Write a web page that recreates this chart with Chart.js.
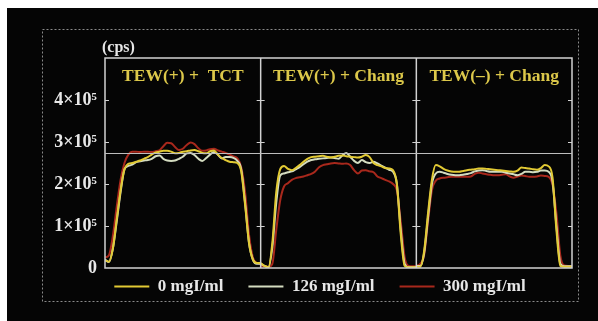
<!DOCTYPE html>
<html>
<head>
<meta charset="utf-8">
<script src="https://cdn.jsdelivr.net/npm/chart.js@4.4.1/dist/chart.umd.min.js"></script>
<style>
  body { margin: 0; background: #fff; }
  #wrap { width: 598px; height: 321px; }
</style>
</head>
<body>
<div id="wrap"><canvas id="chart" width="598" height="321"></canvas></div>
<script>
const panels = ['TEW(+) +  TCT', 'TEW(+) + Chang', 'TEW(–) + Chang'];
const doses = ['0 mgI/ml', '126 mgI/ml', '300 mgI/ml'];
const yTicks = [0, 1, 2, 3, 4];   // x10^5 cps
const refLevel = 2.73;

// count rate (x10^5 cps), 41 samples across each panel
const tct0   = [0.18,0.15,0.45,1.15,1.85,2.35,2.48,2.5,2.53,2.56,2.6,2.64,2.7,2.75,2.77,2.79,2.79,2.77,2.73,2.74,2.77,2.78,2.8,2.81,2.78,2.74,2.73,2.78,2.8,2.7,2.62,2.57,2.53,2.52,2.5,2.3,1.5,0.6,0.2,0.12,0.12];
const tct126 = [0.2,0.14,0.45,1.1,1.8,2.35,2.43,2.46,2.52,2.54,2.56,2.57,2.6,2.66,2.68,2.6,2.56,2.55,2.56,2.6,2.65,2.73,2.74,2.69,2.6,2.55,2.62,2.7,2.76,2.7,2.61,2.64,2.64,2.62,2.55,2.35,1.55,0.6,0.2,0.1,0.1];
const tct300 = [0.25,0.3,0.75,1.45,2.1,2.5,2.7,2.77,2.77,2.76,2.77,2.77,2.76,2.78,2.8,2.9,2.98,2.97,2.88,2.81,2.84,2.93,2.99,2.95,2.85,2.79,2.8,2.83,2.84,2.8,2.77,2.74,2.7,2.66,2.61,2.4,1.8,0.8,0.25,0.12,0.1];

const chang0   = [0.12,0.05,0.02,0.6,1.8,2.35,2.43,2.36,2.33,2.38,2.45,2.53,2.6,2.64,2.65,2.66,2.67,2.65,2.63,2.65,2.67,2.68,2.66,2.65,2.64,2.63,2.65,2.69,2.64,2.5,2.45,2.42,2.38,2.37,2.33,2.0,0.8,0.05,0.02,0.02,0.02];
const chang126 = [0.1,0.05,0.02,0.5,1.55,2.2,2.25,2.28,2.3,2.35,2.4,2.47,2.53,2.57,2.59,2.6,2.61,2.62,2.63,2.62,2.6,2.68,2.74,2.65,2.55,2.5,2.57,2.52,2.5,2.53,2.49,2.44,2.39,2.34,2.29,2.0,0.9,0.1,0.02,0.02,0.02];
const chang300 = [0.05,0.04,0.03,0.1,0.9,1.6,1.94,2.02,2.1,2.14,2.16,2.18,2.21,2.24,2.3,2.4,2.45,2.47,2.49,2.5,2.49,2.48,2.49,2.45,2.33,2.25,2.32,2.33,2.3,2.28,2.18,2.14,2.1,2.06,2.0,1.85,1.1,0.25,0.05,0.04,0.04];

const noTew0   = [0.03,0.03,0.4,1.3,2.1,2.45,2.42,2.36,2.32,2.3,2.29,2.29,2.31,2.33,2.34,2.35,2.37,2.37,2.36,2.35,2.34,2.33,2.32,2.31,2.3,2.29,2.32,2.39,2.38,2.37,2.35,2.34,2.38,2.45,2.42,2.15,0.9,0.05,0.03,0.03,0.03];
const noTew126 = [0.05,0.05,0.35,1.2,2.0,2.25,2.29,2.27,2.24,2.22,2.21,2.21,2.22,2.24,2.26,2.3,2.32,2.33,2.31,2.29,2.29,2.29,2.29,2.27,2.25,2.23,2.21,2.24,2.29,2.29,2.28,2.29,2.32,2.32,2.29,2.05,1.0,0.1,0.04,0.04,0.04];
const noTew300 = [0.05,0.1,0.3,1.1,1.85,2.08,2.13,2.15,2.16,2.17,2.17,2.17,2.17,2.17,2.18,2.24,2.27,2.25,2.23,2.22,2.21,2.21,2.22,2.23,2.18,2.15,2.18,2.2,2.19,2.17,2.17,2.18,2.2,2.19,2.17,1.98,1.3,0.3,0.06,0.05,0.05];

const colors = ['#e2ca34', '#d4dcc0', '#a8281c'];
const groups = [
  [tct0, chang0, noTew0],
  [tct126, chang126, noTew126],
  [tct300, chang300, noTew300]
];

// each panel is 40 steps wide on one shared x scale, gap between panels
function toPoints(arrs) {
  const pts = [];
  arrs.forEach((arr, p) => {
    arr.forEach((v, i) => pts.push({ x: p * 40 + i, y: v }));
    pts.push({ x: p * 40 + 40, y: null });
  });
  return pts;
}

const serif = "'Liberation Serif', 'DejaVu Serif', serif";

const frame = {
  id: 'frame',
  beforeDraw(chart) {
    const c = chart.ctx;
    c.save();
    c.fillStyle = '#fff';
    c.fillRect(0, 0, chart.width, chart.height);
    c.fillStyle = '#050505';
    c.fillRect(7, 8, chart.width - 7, chart.height - 8);
    c.strokeStyle = '#8a8a8a';
    c.lineWidth = 1;
    c.setLineDash([2, 2]);
    c.strokeRect(42.5, 29.5, 536, 272);
    c.restore();
  },
  afterLayout(chart) {
    // legend sits closer to the axis than its padding allows
    const lg = chart.legend;
    lg.top -= 15; lg.bottom -= 15;
    lg.left += 13; lg.right += 13;
  },
  afterDatasetsDraw(chart) {
    const { ctx: c, chartArea: a, scales: { x, y } } = chart;
    const edges = [0, 40, 80, 120].map(v => x.getPixelForValue(v));
    c.save();
    c.strokeStyle = '#d2d2d2';
    c.lineWidth = 1.5;
    c.strokeRect(a.left, a.top, a.width, a.height);
    c.beginPath();
    [edges[1], edges[2]].forEach(px => { c.moveTo(px, a.top); c.lineTo(px, a.bottom); });
    c.stroke();

    c.lineWidth = 1;
    c.strokeStyle = '#bdbdbd';
    const ry = Math.round(y.getPixelForValue(refLevel)) + 0.5;
    c.beginPath(); c.moveTo(a.left, ry); c.lineTo(a.right, ry); c.stroke();

    c.strokeStyle = '#d2d2d2';
    c.beginPath();
    yTicks.slice(1).forEach(t => {
      const py = Math.round(y.getPixelForValue(t)) + 0.5;
      edges.forEach((px, k) => {
        c.moveTo(k === 0 ? px : px - 4, py);
        c.lineTo(k === 3 ? px : px + 4, py);
      });
    });
    c.stroke();

    c.fillStyle = '#dcc84a';
    c.font = 'bold 17.5px ' + serif;
    c.textAlign = 'center';
    c.textBaseline = 'middle';
    panels.forEach((t, k) => c.fillText(t, (edges[k] + edges[k + 1]) / 2, a.top + 18));

    c.fillStyle = '#e6e6e6';
    c.font = 'bold 16px ' + serif;
    c.textAlign = 'left';
    c.fillText('(cps)', a.left - 3, a.top - 10);
    c.restore();
  }
};

new Chart(document.getElementById('chart'), {
  type: 'line',
  data: {
    datasets: doses.map((d, k) => ({
      label: d,
      data: toPoints(groups[k]),
      borderColor: colors[k],
      backgroundColor: colors[k],
      borderWidth: 2,
      pointRadius: 0,
      cubicInterpolationMode: 'monotone'
    }))
  },
  options: {
    responsive: false,
    animation: false,
    layout: { padding: { left: 42, right: 26, top: 58, bottom: 1 } },
    scales: {
      x: { type: 'linear', min: 0, max: 120, display: false },
      y: {
        min: 0, max: 5,
        afterFit(scale) { scale.width = 63; },
        grid: { display: false, drawTicks: false },
        border: { display: false },
        ticks: {
          stepSize: 1,
          padding: 8,
          color: '#e8e8e8',
          font: { family: serif, size: 18, weight: 'bold' },
          callback: v => yTicks.includes(v) ? (v === 0 ? '0' : v + '×10⁵') : ''
        }
      }
    },
    plugins: {
      legend: {
        position: 'bottom',
        labels: {
          usePointStyle: true,
          pointStyle: 'line',
          pointStyleWidth: 35,
          padding: 25,
          color: '#e6e6e6',
          font: { family: serif, size: 17, weight: 'bold' }
        }
      },
      tooltip: { enabled: false }
    }
  },
  plugins: [frame]
});
</script>
</body>
</html>
